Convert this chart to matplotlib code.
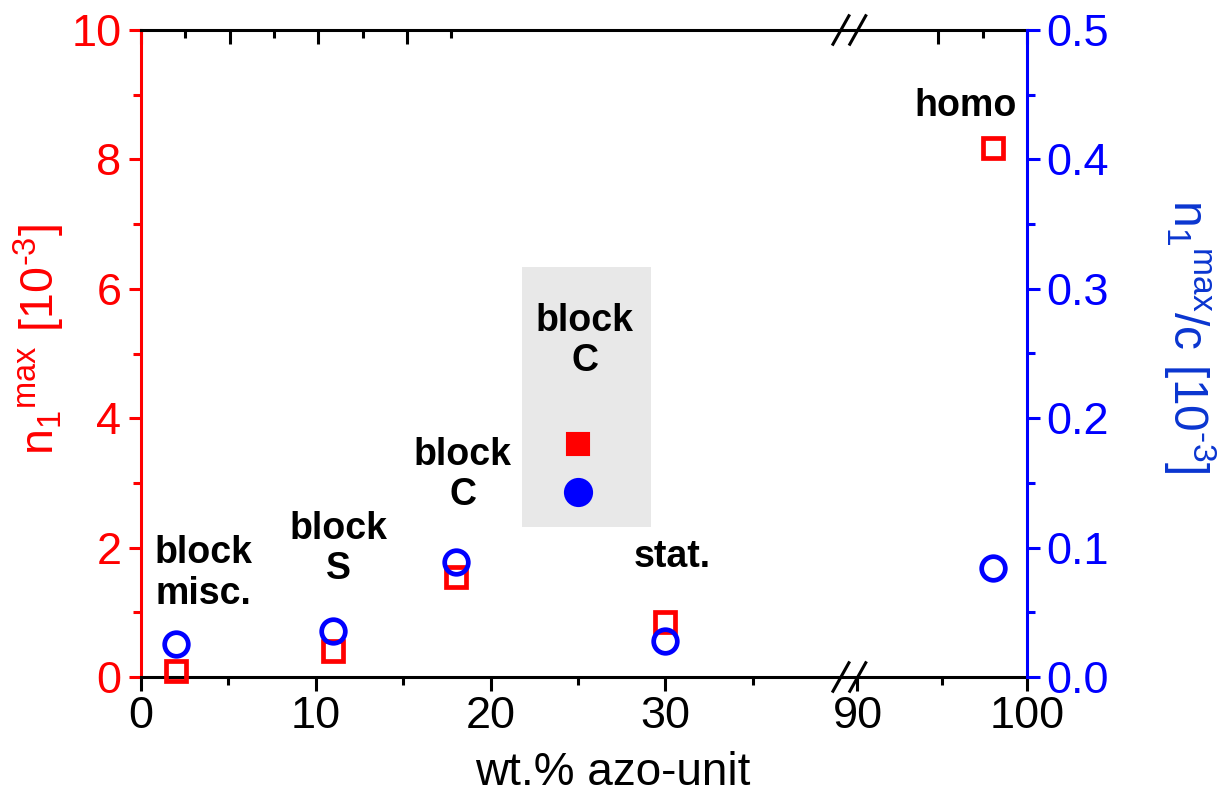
import numpy as np
import matplotlib
matplotlib.use("Agg")
import matplotlib.pyplot as plt
from matplotlib.patches import Rectangle
from matplotlib.ticker import FixedLocator

plt.rcParams['font.family'] = ['Liberation Sans', 'DejaVu Sans']
plt.rcParams['mathtext.fontset'] = 'custom'
plt.rcParams['mathtext.rm'] = 'Liberation Sans'

# data
wt = [2, 11, 18, 30, 98]
n1max = [0.1, 0.4, 1.55, 0.85, 8.18]          # left axis, 10^-3
n1max_c = [0.0255, 0.0355, 0.089, 0.0278, 0.0842]  # right axis, 10^-3
wt_sel = [25]
n1max_sel = [3.6]
n1max_c_sel = [0.143]

labels = ['block\nmisc.', 'block\nS', 'block\nC', 'stat.', 'homo', 'block\nC']
label_x = [3.6, 11.3, 18.4, 30.4, 96.4, 25.4]
label_y = [1.6, 1.98, 3.12, 1.85, 8.83, 5.19]

xticks = [0, 10, 20, 30, 90, 100]
xminor = [5, 15, 25, 35, 95]

RED = '#ff0000'
BLUE = '#0000ff'

# broken x axis: 0..40.5 then 89.5..100
def fwd(x):
    x = np.asarray(x, dtype=float)
    return np.where(x <= 40.5, x, np.where(x >= 89.5, 40.5 + (x - 89.5) * 0.97, 40.5))

def inv(u):
    u = np.asarray(u, dtype=float)
    return np.where(u <= 40.5, u, 89.5 + (u - 40.5) / 0.97)

fig = plt.figure(figsize=(12.28, 7.93), dpi=100)
ax = fig.add_axes([141/1228, 1-677/793, 886/1228, 647/793])
ax.set_xscale('function', functions=(fwd, inv))
ax.set_xlim(0, 100)
ax.set_ylim(0, 10)
ax2 = ax.twinx()
ax2.set_ylim(0, 0.5)

ax.add_patch(Rectangle((21.8, 2.32), 7.4, 4.02, facecolor='#e8e8e8', edgecolor='none', zorder=0))

ax.plot(wt, n1max, 's', ms=14, mfc='none', mec=RED, mew=3.4, clip_on=False, zorder=3)
ax.plot(wt_sel, n1max_sel, 's', ms=16.5, mfc=RED, mec=RED, mew=1.5, zorder=3)
ax2.plot(wt, n1max_c, 'o', ms=17, mfc='none', mec=BLUE, mew=3.4, clip_on=False, zorder=3)
ax2.plot(wt_sel, n1max_c_sel, 'o', ms=19.5, mfc=BLUE, mec=BLUE, mew=1.5, zorder=3)

for t, x, y in zip(labels, label_x, label_y):
    ax.text(x, y, t, ha='center', va='center', fontsize=27, fontweight='bold',
            linespacing=1.15, zorder=4)

ax.xaxis.set_major_locator(FixedLocator(xticks))
ax.xaxis.set_minor_locator(FixedLocator(xminor))
ax.set_xticklabels([str(v) for v in xticks])
ax.set_yticks(np.arange(0, 11, 2))
ax.set_yticks(np.arange(1, 10, 2), minor=True)
ax2.set_yticks(np.arange(0, 0.51, 0.1))
ax2.set_yticks(np.arange(0.05, 0.5, 0.1), minor=True)
ax2.set_yticklabels(['%.1f' % v for v in np.arange(0, 0.51, 0.1)])

FS = 32.5
ax.tick_params(axis='x', which='both', direction='out', top=False, labelsize=FS, pad=4, width=2.2, colors='black')
ax.tick_params(axis='x', which='major', length=10)
ax.tick_params(axis='x', which='minor', length=5.5)
ax.tick_params(axis='y', which='both', direction='out', right=False, labelsize=FS, pad=5,
               width=2.2, colors=RED)
ax.tick_params(axis='y', which='major', length=9)
ax.tick_params(axis='y', which='minor', length=5.5)
ax2.tick_params(axis='y', which='both', direction='out', labelsize=FS, pad=5, width=2.2, colors=BLUE)
ax2.tick_params(axis='y', which='major', length=9)
ax2.tick_params(axis='y', which='minor', length=5.5)

# inward ticks along the top
axt = ax.secondary_xaxis('top', functions=(lambda v: v, lambda v: v))
axt.xaxis.set_major_locator(FixedLocator(xticks))
axt.xaxis.set_minor_locator(FixedLocator(xminor))
axt.tick_params(axis='x', which='both', direction='in', labeltop=False, width=2.2)
axt.tick_params(axis='x', which='major', length=10)
axt.tick_params(axis='x', which='minor', length=5.5)
axt.spines['top'].set_visible(False)

for s in ['top', 'bottom']:
    ax.spines[s].set_linewidth(2.2)
ax.spines['left'].set_linewidth(2.2)
ax.spines['left'].set_color(RED)
ax.spines['right'].set_visible(False)
for s in ['top', 'bottom', 'left']:
    ax2.spines[s].set_visible(False)
ax2.spines['right'].set_linewidth(2.2)
ax2.spines['right'].set_color(BLUE)

# break marks
for yb in (0, 1):
    for xb in (0.790, 0.809):
        ax.plot([xb - 0.009, xb + 0.009], [yb - 0.022, yb + 0.022], color='black', lw=2.2,
                transform=ax.transAxes, clip_on=False, zorder=5)

ax.set_xlabel('wt.% azo-unit', fontsize=33)
ax.xaxis.set_label_coords(0.532, -0.115)
ax.set_ylabel(r'$\mathregular{n_1{}^{max}\ [10^{\text{-}3}]}$', fontsize=33.5, color=RED, va='bottom')
ax.yaxis.set_label_coords(-0.083, 0.522)
ax2.set_ylabel(r'$\mathregular{n_1{}^{max}/c\ [10^{\text{-}3}]}$', fontsize=34.5, color='#0a35d0',
               rotation=270, va='center')
ax2.yaxis.set_label_coords(1.184, 0.527)

fig.savefig('out.png', dpi=100)
